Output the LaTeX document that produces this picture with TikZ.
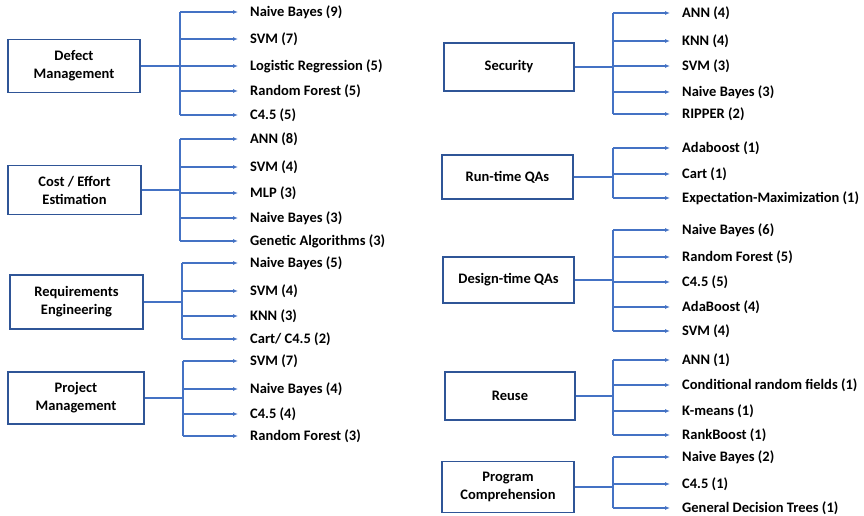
\documentclass[tikz,border=0pt]{standalone}
\usepackage{fontspec}
\setmainfont{Carlito}
\usetikzlibrary{positioning,arrows.meta}
\definecolor{boxblue}{HTML}{2F5597}
\definecolor{linkblue}{HTML}{4472C4}

\tikzset{
  areabox/.style={draw=boxblue, line width=1.6pt, minimum width=132pt, minimum height=50pt, align=center, font=\fontsize{14.5}{18}\selectfont\bfseries},
  algo/.style={anchor=west, inner sep=0pt, font=\fontsize{14.5}{16.5}\selectfont\bfseries},
  link/.style={draw=linkblue, line width=1.1pt},
  linkarrow/.style={link, -{Latex[length=5pt,width=4pt]}, shorten >=12pt}
}

\begin{document}
\begin{tikzpicture}[x=1pt, y=-1pt]
\useasboundingbox (0,0) rectangle (864,515);

% left column
\node[areabox, minimum width=132pt, minimum height=53pt] (dm) at (74,66) {Defect\\Management};
\coordinate (dm-t) at (180,66);
\foreach \y/\t [count=\i] in {12/Naive Bayes (9), 39/SVM (7), 66/Logistic Regression (5), 91/Random Forest (5), 115/C4.5 (5)}
  \node[algo] (dm-\i) at (250,\y) {\t};

\node[areabox, minimum width=133pt, minimum height=49pt] (ce) at (74.5,190) {Cost / Effort\\Estimation};
\coordinate (ce-t) at (180,190);
\foreach \y/\t [count=\i] in {139/ANN (8), 167/SVM (4), 193/MLP (3), 218/Naive Bayes (3), 241/Genetic Algorithms (3)}
  \node[algo] (ce-\i) at (250,\y) {\t};

\node[areabox, minimum width=133pt, minimum height=54pt] (re) at (76.5,302) {Requirements\\Engineering};
\coordinate (re-t) at (182,302);
\foreach \y/\t [count=\i] in {263/Naive Bayes (5), 291/SVM (4), 316/KNN (3), 339/{Cart/ C4.5 (2)}}
  \node[algo] (re-\i) at (250,\y) {\t};

\node[areabox, minimum width=136pt, minimum height=52pt] (pm) at (76,398) {Project\\Management};
\coordinate (pm-t) at (183,398);
\foreach \y/\t [count=\i] in {361/SVM (7), 389/Naive Bayes (4), 414/C4.5 (4), 436/Random Forest (3)}
  \node[algo] (pm-\i) at (250,\y) {\t};

% right column
\node[areabox, minimum width=130pt, minimum height=48pt] (se) at (509,67) {Security};
\coordinate (se-t) at (613,67);
\foreach \y/\t [count=\i] in {13/ANN (4), 41/KNN (4), 66/SVM (3), 92/Naive Bayes (3), 114/RIPPER (2)}
  \node[algo] (se-\i) at (682,\y) {\t};

\node[areabox, minimum width=131pt, minimum height=44pt] (rt) at (507.5,177) {Run-time QAs};
\coordinate (rt-t) at (613,177);
\foreach \y/\t [count=\i] in {148/Adaboost (1), 174/Cart (1), 198/Expectation-Maximization (1)}
  \node[algo] (rt-\i) at (682,\y) {\t};

\node[areabox, minimum width=131pt, minimum height=46pt] (dt) at (508.5,280) {Design-time QAs};
\coordinate (dt-t) at (613,280);
\foreach \y/\t [count=\i] in {230/Naive Bayes (6), 257/Random Forest (5), 282/C4.5 (5), 307/AdaBoost (4), 331/SVM (4)}
  \node[algo] (dt-\i) at (682,\y) {\t};

\node[areabox, minimum width=130pt, minimum height=48pt] (ru) at (510,396) {Reuse};
\coordinate (ru-t) at (613,396);
\foreach \y/\t [count=\i] in {360/ANN (1), 385/Conditional random fields (1), 411/K-means (1), 435/RankBoost (1)}
  \node[algo] (ru-\i) at (682,\y) {\t};

\node[areabox, minimum width=132pt, minimum height=51pt] (pc) at (508,487) {Program\\Comprehension};
\coordinate (pc-t) at (613,487);
\foreach \y/\t [count=\i] in {457/Naive Bayes (2), 484/C4.5 (1), 508/General Decision Trees (1)}
  \node[algo] (pc-\i) at (682,\y) {\t};

% connectors
\foreach \g/\n in {dm/5, ce/5, re/4, pm/4, se/5, rt/3, dt/5, ru/4, pc/3} {
  \draw[link] (\g.east) -- (\g-t);
  \draw[link] (\g-t |- \g-1.west) -- (\g-t |- \g-\n.west);
  \foreach \i in {1,...,\n}
    \draw[linkarrow] (\g-t |- \g-\i.west) -- (\g-\i.west);
}
\end{tikzpicture}
\end{document}
